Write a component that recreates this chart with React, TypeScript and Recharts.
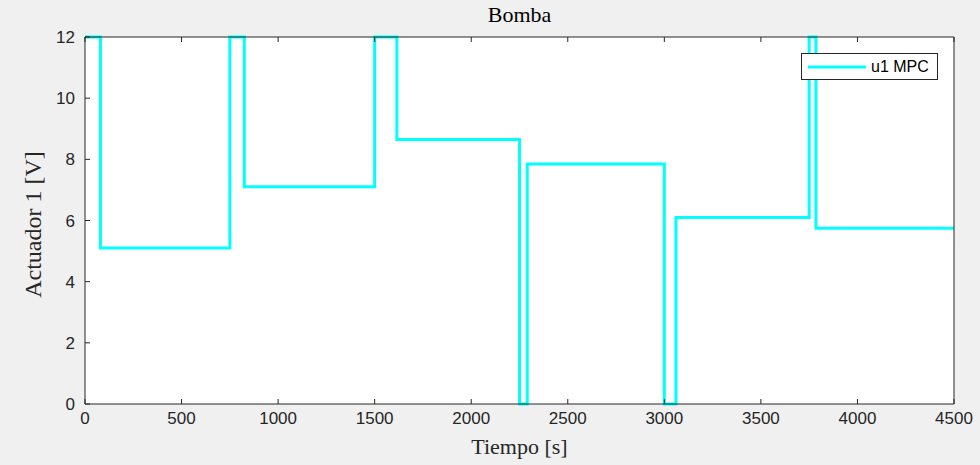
import React from 'react';
import { LineChart, Line, XAxis, YAxis, CartesianGrid, Legend } from 'recharts';

// tiempos de cambio del actuador (s) y valor aplicado desde ese instante (V)
const tiempos = [0, 80, 750, 825, 1500, 1615, 2250, 2290, 3000, 3060, 3750, 3785, 4500];
const u1 = [12, 5.1, 12, 7.1, 12, 8.65, 0, 7.85, 0, 6.1, 12, 5.75, 5.75];

const xTicks = [0, 500, 1000, 1500, 2000, 2500, 3000, 3500, 4000, 4500];
const yTicks = [0, 2, 4, 6, 8, 10, 12];

const data = tiempos.map((t, i) => ({ t, u1: u1[i] }));

const axisColor = '#262626';
const tickFont = { fontFamily: '"Liberation Sans", Arial, sans-serif', fontSize: 17, fill: axisColor };
const noLabel = () => <g />;
const serif = '"Liberation Serif", "Times New Roman", serif';

const LegendBox = () => (
  <div
    style={{
      width: 137,
      height: 27,
      boxSizing: 'border-box',
      border: `1px solid ${axisColor}`,
      background: '#fff',
      display: 'flex',
      alignItems: 'center',
      fontFamily: '"Liberation Sans", Arial, sans-serif',
      fontSize: 16,
      color: '#000',
    }}
  >
    <svg width={64} height={10} style={{ marginLeft: 5 }}>
      <line x1={1} y1={5} x2={59} y2={5} stroke="#00ffff" strokeWidth={3} />
    </svg>
    <span>u1 MPC</span>
  </div>
);

export default function App() {
  return (
    <div style={{ position: 'absolute', left: 0, top: 0, width: 980, height: 465, background: '#f0f0f0' }}>
      <div
        style={{
          position: 'absolute', left: 85, width: 869, top: 2, textAlign: 'center',
          fontFamily: serif, fontSize: 22, color: '#000',
        }}
      >
        Bomba
      </div>
      <div
        style={{
          position: 'absolute', left: 85, width: 869, top: 434, textAlign: 'center',
          fontFamily: serif, fontSize: 22, color: axisColor,
        }}
      >
        Tiempo [s]
      </div>
      <div
        style={{
          position: 'absolute', left: 33, top: 225, width: 220, marginLeft: -110, marginTop: -14,
          textAlign: 'center', transform: 'rotate(-90deg)',
          fontFamily: serif, fontSize: 24, color: axisColor, whiteSpace: 'nowrap',
        }}
      >
        Actuador 1 [V]
      </div>
      <LineChart
        width={980}
        height={465}
        data={data}
        margin={{ top: 27, right: 16, bottom: 31, left: 55 }}
        style={{ position: 'absolute', left: 0, top: 0 }}
      >
        <CartesianGrid fill="#ffffff" horizontal={false} vertical={false} />
        <XAxis
          dataKey="t"
          type="number"
          domain={[0, 4500]}
          ticks={xTicks}
          height={30}
          stroke={axisColor}
          tickSize={-5}
          tickMargin={13}
          tick={tickFont}
          interval={0}
        />
        <XAxis
          xAxisId="top"
          orientation="top"
          dataKey="t"
          type="number"
          domain={[0, 4500]}
          ticks={xTicks}
          height={10}
          stroke={axisColor}
          tickSize={-5}
          tick={noLabel}
          interval={0}
        />
        <YAxis
          type="number"
          domain={[0, 12]}
          ticks={yTicks}
          width={30}
          stroke={axisColor}
          tickSize={-5}
          tickMargin={15}
          tick={tickFont}
          interval={0}
        />
        <YAxis
          yAxisId="right"
          orientation="right"
          type="number"
          domain={[0, 12]}
          ticks={yTicks}
          width={10}
          stroke={axisColor}
          tickSize={-5}
          tick={noLabel}
          interval={0}
        />
        <Legend
          layout="vertical"
          align="center"
          verticalAlign="middle"
          content={() => <LegendBox />}
          wrapperStyle={{ top: 53, left: 801, width: 137, height: 27 }}
        />
        <Line
          type="stepAfter"
          dataKey="u1"
          name="u1 MPC"
          stroke="#00ffff"
          strokeWidth={3}
          dot={false}
          isAnimationActive={false}
        />
      </LineChart>
    </div>
  );
}
